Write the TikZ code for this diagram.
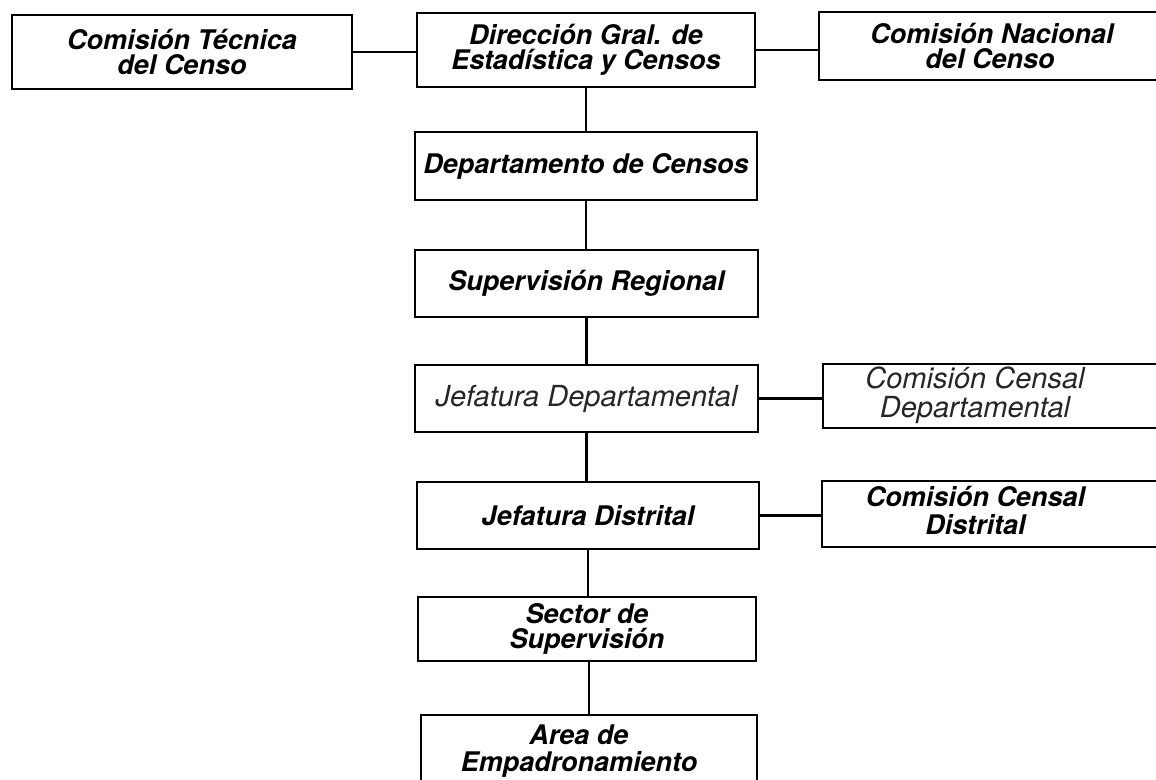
\documentclass[tikz,border=0pt]{standalone}
\usepackage{fontspec}
\setmainfont{TeX Gyre Heros}
\begin{document}
\begin{tikzpicture}[x=1pt,y=-1pt,
  box/.style={draw=black, line width=2.6pt, rectangle, inner sep=0pt, align=center,
    font=\fontsize{27}{25}\selectfont\bfseries\itshape},
  greybox/.style={box, line width=2.2pt, text=black!85,
    font=\fontsize{29}{27}\selectfont\itshape},
  link/.style={draw=black, line width=2.3pt}]
\useasboundingbox (0,0) rectangle (1156,779);
\clip (0,0) rectangle (1156,779);
\fill[white] (0,0) rectangle (1156,779);

\node[box, minimum width=340pt, minimum height=74pt] (tec) at (182,52) {Comisión Técnica\\del Censo};
\node[box, minimum width=338pt, minimum height=74pt] (dir) at (586,50) {Dirección Gral. de\\Estadística y Censos};
\node[box, minimum width=346pt, minimum height=68pt] (nac) at (992,46) {Comisión Nacional\\del Censo\hspace*{4pt}};
\node[box, minimum width=342pt, minimum height=68pt] (dep) at (586,166) {Departamento de Censos};
\node[box, minimum width=343pt, minimum height=67pt] (sup) at (586.5,283.5) {Supervisión Regional};
\node[greybox, minimum width=343pt, minimum height=67pt] (jdep) at (586.5,398.5) {Jefatura Departamental};
\node[greybox, line width=1.8pt, minimum width=347pt, minimum height=64pt] (ccdep) at (996.5,396) {\begin{tabular}{@{}c@{}}Comisión Censal\\Departamental\end{tabular}\hspace*{43pt}};
\node[box, minimum width=342pt, minimum height=67pt] (jdis) at (588,515.5) {Jefatura Distrital};
\node[box, minimum width=348pt, minimum height=66pt] (ccdis) at (996,514) {\begin{tabular}{@{}c@{}}Comisión Censal\\Distrital\end{tabular}\hspace*{41pt}};
\node[box, minimum width=338pt, minimum height=64pt] (sec) at (587,629) {Sector de\\Supervisión};
\node[box, minimum width=336pt, minimum height=74pt] (area) at (589,752) {\begin{tabular}{@{}c@{}}Area de\\Empadronamiento\end{tabular}\hspace*{20pt}};

\draw[link] (tec.east) -- (tec.east -| dir.west);
\draw[link] (dir.east) -- (dir.east -| nac.west);
\draw[link] (dep.north |- dir.south) -- (dep.north);
\draw[link] (dep.south) -- (dep.south |- sup.north);
\draw[link] (sup.south) -- (sup.south |- jdep.north);
\draw[link] (jdep.east) -- (jdep.east -| ccdep.west);
\draw[link] (jdep.south) -- (jdep.south |- jdis.north);
\draw[link] (jdis.east) -- (jdis.east -| ccdis.west);
\draw[link] (jdis.south) -- (jdis.south |- sec.north);
\draw[link] (area.north |- sec.south) -- (area.north);
\end{tikzpicture}
\end{document}
